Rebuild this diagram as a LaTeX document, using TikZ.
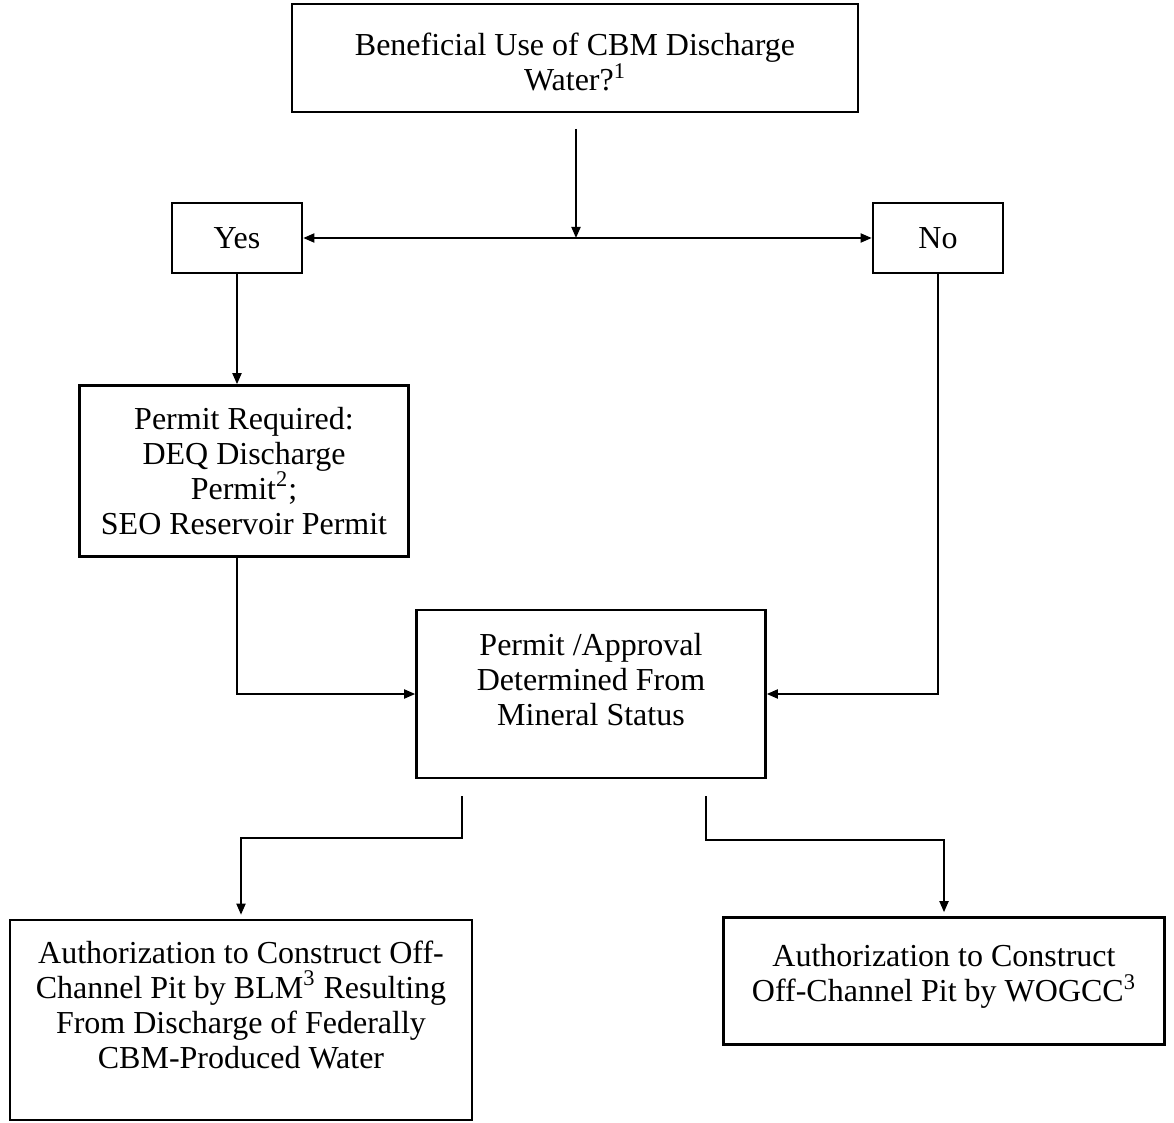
\documentclass[tikz,border=0pt]{standalone}
\usepackage{fontspec}
\setmainfont{Liberation Serif}
\usetikzlibrary{arrows.meta}

\begin{document}
\begin{tikzpicture}
[ x=0.5pt, y=-0.5pt,
		box/.style={rectangle,draw,line width=1.3pt,align=center,inner sep=0pt,font=\fontsize{16}{17.5}\selectfont},
		answer/.style={box,minimum width=65pt,minimum height=35pt},
		arrowOut/.style={-{Triangle[length=5.5pt,width=4.5pt]},line width=0.9pt},
		arrowBoth/.style={{Triangle[length=5.5pt,width=4.5pt]}-{Triangle[length=5.5pt,width=4.5pt]},line width=0.9pt}]

	\useasboundingbox (0,0) rectangle (1174,1123);

	\node[box,minimum width=283pt,minimum height=54pt,text height=33pt] (question) at (575,58) {Beneficial Use of CBM Discharge\\Water?\textsuperscript{1}};
	\node[answer] (yes) at (237,238) {Yes};
	\node[answer] (no) at (938,238) {No};
	\node[box,minimum width=164.5pt,minimum height=85.5pt] (permit) at (244,471) {Permit Required:\\DEQ Discharge\\Permit\textsuperscript{2};\\SEO Reservoir Permit};
	\node[box,minimum width=174.5pt,minimum height=84pt,text depth=15pt] (approval) at (591,694) {Permit /Approval\\Determined From\\Mineral Status};
	\node[box,minimum width=231pt,minimum height=100pt,text depth=15.5pt] (blm) at (241,1020) {Authorization to Construct Off-\\Channel Pit by BLM\textsuperscript{3} Resulting\\From Discharge of Federally\\CBM-Produced Water};
	\node[box,minimum width=220.5pt,minimum height=63.5pt,text depth=8pt] (wogcc) at (944,981) {Authorization to Construct\\Off-Channel Pit by WOGCC\textsuperscript{3}};

	\coordinate (qout) at (576,129);
	\coordinate (outL) at (462,796);
	\coordinate (outR) at (706,796);

	\draw[arrowBoth] (yes) -- (no);
	\draw[arrowOut] (qout) -- (qout |- yes.east);
	\draw[arrowOut] (yes.south) -- (yes.south |- permit.north);
	\draw[arrowOut] (yes.south |- permit.south) |- (approval.west);
	\draw[arrowOut] (no.south) |- (approval.east);
	\draw[arrowOut,shorten >=2pt] (outL) -- ++(0,42) -| (blm.north);
	\draw[arrowOut,shorten >=2pt] (outR) -- ++(0,44) -| (wogcc.north);
\end{tikzpicture}
\end{document}
